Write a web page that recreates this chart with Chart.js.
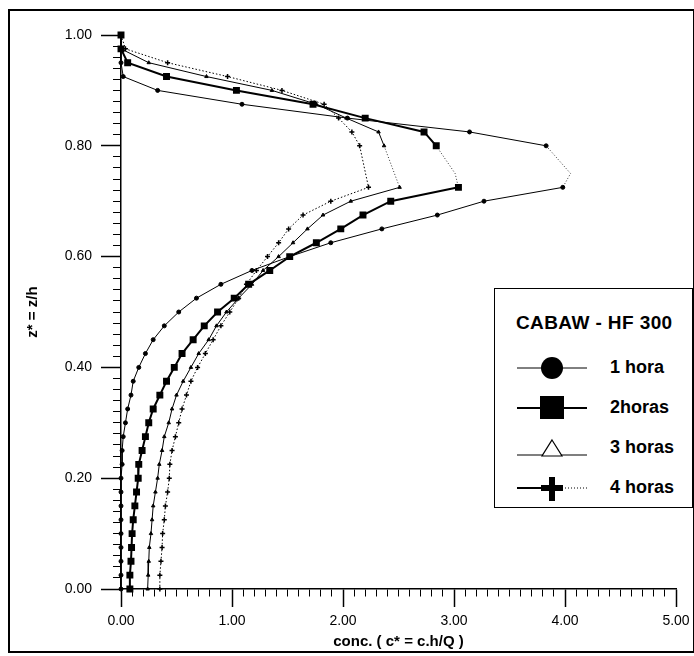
<!DOCTYPE html>
<html>
<head>
<meta charset="utf-8">
<script src="https://cdn.jsdelivr.net/npm/chart.js@4"></script>
<style>
  html, body { margin: 0; padding: 0; background: #fff; }
  #wrap { position: relative; width: 694px; height: 656px; font-family: "Liberation Sans", Arial, sans-serif; color: #000; }
  #cv { position: absolute; left: 0; top: 0; }
  #frame { position: absolute; left: 8px; top: 9px; width: 683px; height: 640px; border: 2px solid #000; pointer-events: none; }
  #key { position: absolute; left: 494px; top: 288px; width: 197px; height: 218px; border: 1.5px solid #000; background: #fff; }
  #key .kt { position: absolute; left: 21px; top: 23px; font-size: 19px; font-weight: bold; letter-spacing: 0.4px; white-space: nowrap; }
  #key .row { position: absolute; left: 22px; height: 30px; width: 175px; }
  #key .row svg { position: absolute; left: 0; top: 0; }
  #key .row span { position: absolute; left: 93px; top: 4px; font-size: 18px; font-weight: bold; white-space: nowrap; }
</style>
</head>
<body>
<div id="wrap">
  <canvas id="cv" width="694" height="656"></canvas>
  <div id="frame"></div>
  <div id="key">
    <div class="kt">CABAW - HF 300</div>
    <div class="row" style="top:64px">
      <svg width="72" height="30"><line x1="0" y1="15" x2="70" y2="15" stroke="#000" stroke-width="1"/><circle cx="35" cy="15" r="11" fill="#000"/></svg>
      <span>1 hora</span>
    </div>
    <div class="row" style="top:104px">
      <svg width="72" height="30"><line x1="0" y1="15" x2="70" y2="15" stroke="#000" stroke-width="2"/><rect x="23" y="3" width="24" height="23" fill="#000"/></svg>
      <span>2horas</span>
    </div>
    <div class="row" style="top:144px">
      <svg width="72" height="30"><line x1="0" y1="22" x2="70" y2="22" stroke="#000" stroke-width="1.2"/><polygon points="35,7 45,23 25,23" fill="#fff" stroke="#000" stroke-width="1.2"/></svg>
      <span>3 horas</span>
    </div>
    <div class="row" style="top:184px">
      <svg width="72" height="30"><line x1="0" y1="15" x2="28" y2="15" stroke="#000" stroke-width="2"/><line x1="42" y1="15" x2="70" y2="15" stroke="#000" stroke-width="1" stroke-dasharray="1,2"/><path d="M35 4 V28 M24 15 H46" stroke="#000" stroke-width="6"/></svg>
      <span>4 horas</span>
    </div>
  </div>
</div>
<script>
// heights z* = z/h, top to bottom
const zLevels = [1.0, 0.975, 0.95, 0.925, 0.9, 0.875, 0.85, 0.825, 0.8, 0.775, 0.75, 0.725,
  0.7, 0.675, 0.65, 0.625, 0.6, 0.575, 0.55, 0.525, 0.5, 0.475, 0.45, 0.425, 0.4, 0.375,
  0.35, 0.325, 0.3, 0.275, 0.25, 0.225, 0.2, 0.175, 0.15, 0.125, 0.1, 0.075, 0.05, 0.025, 0];

// conc. c* = c.h/Q at each height (null = no reading)
const conc1h = [0, 0, 0, 0.02, 0.33, 1.09, 2.04, 3.14, 3.83, null, 4.05, 3.98,
  3.27, 2.85, 2.35, 1.89, 1.52, 1.18, 0.90, 0.68, 0.52, 0.39, 0.29, 0.22, 0.16, 0.11,
  0.09, 0.06, 0.04, 0.02, 0.01, 0.01, 0, 0, 0, 0, 0, 0, 0, 0, 0];
const conc2h = [0, 0, 0.06, 0.41, 1.04, 1.73, 2.2, 2.73, 2.84, null, 3.01, 3.04,
  2.43, 2.18, 1.98, 1.76, 1.52, 1.34, 1.15, 1.02, 0.87, 0.75, 0.65, 0.55, 0.48, 0.41,
  0.35, 0.29, 0.25, 0.22, 0.19, 0.16, 0.155, 0.14, 0.125, 0.11, 0.10, 0.095, 0.09, 0.08, 0.08];
const conc3h = [0, 0, 0.25, 0.77, 1.36, 1.76, 2.03, 2.32, 2.37, null, null, 2.51,
  2.07, 1.82, 1.68, 1.55, 1.42, 1.28, 1.18, 1.06, 0.95, 0.86, 0.79, 0.70, 0.63, 0.56,
  0.50, 0.46, 0.43, 0.39, 0.37, 0.345, 0.33, 0.31, 0.29, 0.28, 0.27, 0.255, 0.25, 0.245, 0.24];
const conc4h = [0, 0.04, 0.42, 0.96, 1.45, 1.83, 1.96, 2.08, 2.15, null, null, 2.23,
  1.89, 1.64, 1.51, 1.42, 1.32, 1.22, 1.13, 1.06, 0.98, 0.90, 0.83, 0.76, 0.69, 0.63,
  0.59, 0.55, 0.52, 0.49, 0.46, 0.44, 0.435, 0.42, 0.40, 0.39, 0.375, 0.37, 0.36, 0.35, 0.35];

const seriesNames = ['1 hora', '2horas', '3 horas', '4 horas'];
const xTicks = [0, 1, 2, 3, 4, 5];          // labelled
const yTicks = [0, 0.2, 0.4, 0.6, 0.8, 1.0]; // labelled
const xMinorStep = 0.1;
const yMinorStep = 0.02;

const FONT = '"Liberation Sans", Arial, sans-serif';

function pts(vals) {
  const out = [];
  vals.forEach((c, i) => { if (c !== null) out.push({ x: c, y: zLevels[i] }); });
  return out;
}

// minor ticks between the labelled ones
function tickRun(max, step) {
  const out = [];
  const n = Math.round(max / step);
  for (let i = 0; i <= n; i++) out.push({ value: +(i * step).toFixed(4) });
  return out;
}
const isMajor = (list, v) => list.some(t => Math.abs(t - v) < 1e-6);

// the stretch around the peak (0.80 .. 0.725) is a thin dotted join
const inPeak = v => v <= 0.8001 && v >= 0.7249;
const peakSeg = s => inPeak(s.p0.parsed.y) && inPeak(s.p1.parsed.y);
const hideJoin = r => c => (c.raw && c.raw.y === 0.75) ? 0 : r;

function ds(label, vals, o) {
  return Object.assign({
    label, data: pts(vals), showLine: true, borderColor: '#000', backgroundColor: '#000',
    pointBorderColor: '#000', pointBackgroundColor: '#000', tension: 0, clip: false,
    segment: { borderDash: s => peakSeg(s) ? [1, 2] : undefined, borderWidth: s => peakSeg(s) ? 0.8 : undefined }
  }, o);
}

new Chart(document.getElementById('cv'), {
  type: 'scatter',
  data: {
    datasets: [
      ds(seriesNames[0], conc1h, { borderWidth: 1, pointStyle: 'circle', pointRadius: hideJoin(2) }),
      ds(seriesNames[1], conc2h, { borderWidth: 2, pointStyle: 'rect', pointRadius: hideJoin(3.5) }),
      ds(seriesNames[2], conc3h, { borderWidth: 1, pointStyle: 'triangle', pointRadius: 2 }),
      ds(seriesNames[3], conc4h, { borderWidth: 1, borderDash: [1.5, 2], pointStyle: 'cross', pointRadius: 2.5, pointBorderWidth: 1.5,
        segment: {} })
    ]
  },
  options: {
    responsive: false,
    animation: false,
    layout: { padding: { top: 35, right: 18, left: 0, bottom: 0 } },
    plugins: { legend: { display: false }, tooltip: { enabled: false } },
    scales: {
      x: {
        type: 'linear', min: 0, max: 5,
        // tick marks hang below the axis; minor ones cut short with a dash
        grid: {
          display: true, drawOnChartArea: false, drawTicks: true, tickLength: 18,
          color: '#000', tickColor: '#000',
          tickWidth: c => isMajor(xTicks, c.tick ? c.tick.value : -1) ? 1.5 : 1,
          tickBorderDash: c => isMajor(xTicks, c.tick ? c.tick.value : -1) ? [] : [7, 100]
        },
        border: { display: true, color: '#000', width: 1.5 },
        afterBuildTicks: s => { s.ticks = tickRun(5, xMinorStep); },
        afterFit: s => { s.height = 67; s.paddingLeft = 0; s.paddingRight = 0; },
        ticks: {
          autoSkip: false, maxRotation: 0, color: '#000', padding: 6,
          font: { family: FONT, size: 14 },
          callback: v => isMajor(xTicks, v) ? v.toFixed(2) : ''
        },
        title: { display: true, text: 'conc. ( c* = c.h/Q )', color: '#000', font: { family: FONT, size: 15, weight: 'bold' }, padding: { top: 0, bottom: 5 } }
      },
      y: {
        type: 'linear', min: 0, max: 1,
        // tick marks drawn from the far end toward the axis, so minor ones skip their outer part
        grid: {
          display: true, drawOnChartArea: false, drawTicks: true, tickLength: 20,
          color: '#000', tickColor: '#000',
          tickWidth: c => isMajor(yTicks, c.tick ? c.tick.value : -1) ? 1.5 : 1,
          tickBorderDash: c => isMajor(yTicks, c.tick ? c.tick.value : -1) ? [] : [0, 12, 8, 100]
        },
        border: { display: true, color: '#000', width: 1.5 },
        afterBuildTicks: s => { s.ticks = tickRun(1, yMinorStep); },
        afterFit: s => { s.width = 121; s.paddingTop = 0; s.paddingBottom = 0; },
        ticks: {
          autoSkip: false, color: '#000', padding: 9,
          font: { family: FONT, size: 14 },
          callback: v => isMajor(yTicks, v) ? v.toFixed(2) : ''
        },
        title: { display: true, text: 'z* = z/h', color: '#000', font: { family: FONT, size: 15, weight: 'bold' }, padding: { top: 24, bottom: 0 } }
      }
    }
  }
});
</script>
</body>
</html>
